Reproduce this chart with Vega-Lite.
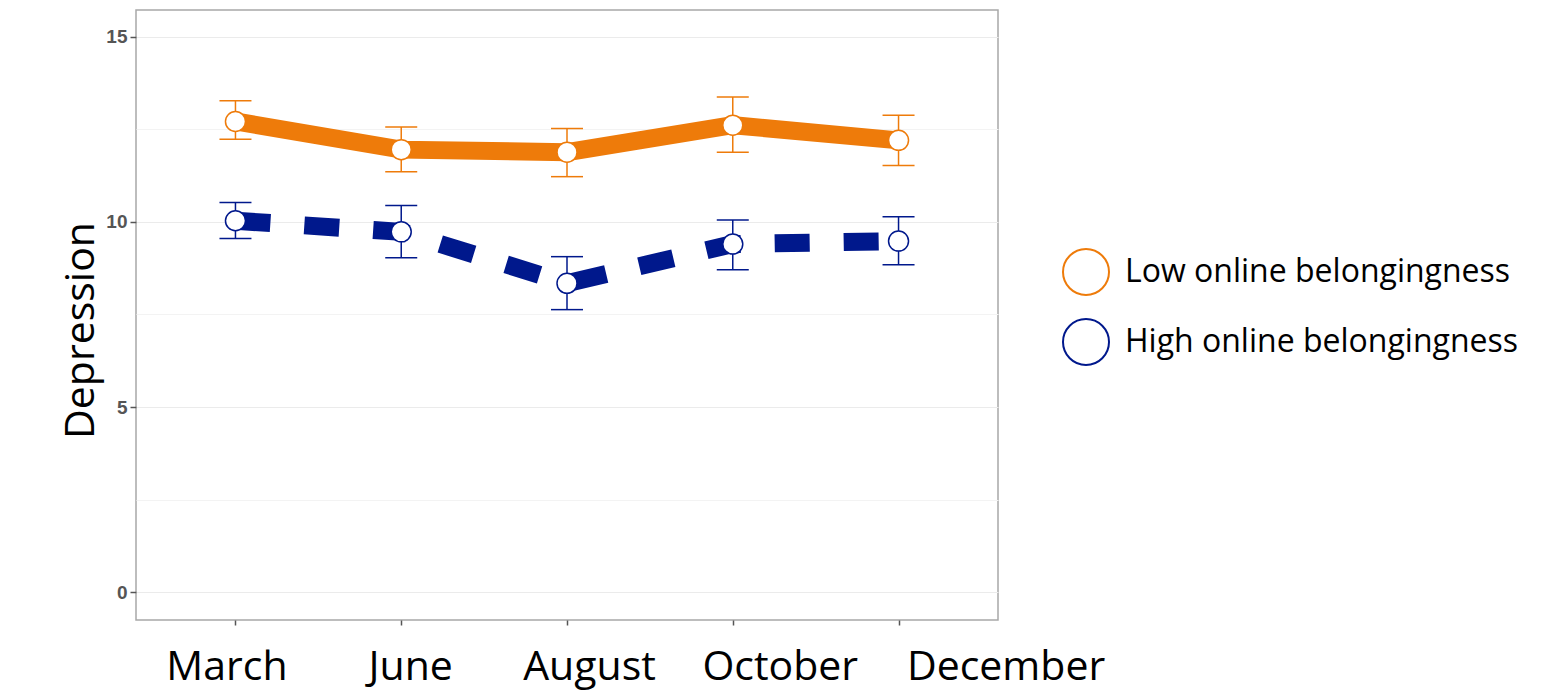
{
  "$schema": "https://vega.github.io/schema/vega-lite/v6.json",
  "width": 862,
  "height": 610,
  "autosize": {"type": "none"},
  "padding": {"left": 136, "top": 10, "right": 556, "bottom": 71},
  "background": "white",
  "config": {
    "view": {"stroke": "#A8A8A8", "strokeWidth": 1.5}
  },
  "data": {
    "values": [
      {"month": "March", "group": "Low  online belongingness", "mean": 12.71, "lo": 12.23, "hi": 13.27},
      {"month": "June", "group": "Low  online belongingness", "mean": 11.95, "lo": 11.35, "hi": 12.56},
      {"month": "August", "group": "Low  online belongingness", "mean": 11.88, "lo": 11.22, "hi": 12.52},
      {"month": "October", "group": "Low  online belongingness", "mean": 12.61, "lo": 11.88, "hi": 13.37},
      {"month": "December", "group": "Low  online belongingness", "mean": 12.2, "lo": 11.52, "hi": 12.88},
      {"month": "March", "group": "High online belongingness", "mean": 10.03, "lo": 9.55, "hi": 10.52},
      {"month": "June", "group": "High online belongingness", "mean": 9.73, "lo": 9.03, "hi": 10.44},
      {"month": "August", "group": "High online belongingness", "mean": 8.34, "lo": 7.63, "hi": 9.06},
      {"month": "October", "group": "High online belongingness", "mean": 9.4, "lo": 8.71, "hi": 10.05},
      {"month": "December", "group": "High online belongingness", "mean": 9.48, "lo": 8.84, "hi": 10.14}
    ]
  },
  "encoding": {
    "x": {
      "field": "month",
      "type": "ordinal",
      "sort": ["March", "June", "August", "October", "December"],
      "scale": {"type": "point", "padding": 0.6},
      "axis": {
        "title": null,
        "labelAngle": 0,
        "labelFont": "Open Sans",
        "labelFontSize": 41,
        "labelColor": "black",
        "labelPadding": 22,
        "labelLimit": 400,
        "tickSize": 5,
        "tickWidth": 1.5,
        "tickColor": "#555555",
        "domain": false,
        "gridColor": "#EBEBEB",
        "gridWidth": 1.2,
        "labelOffset": {
          "condition": [
            {"test": "datum.value == 'March'", "value": -9},
            {"test": "datum.value == 'June'", "value": 9},
            {"test": "datum.value == 'August'", "value": 22},
            {"test": "datum.value == 'October'", "value": 47},
            {"test": "datum.value == 'December'", "value": 107}
          ],
          "value": 0
        }
      }
    }
  },
  "layer": [
    {
      "transform": [{"filter": "datum.group == 'Low  online belongingness'"}],
      "mark": {"type": "line", "strokeWidth": 18, "strokeCap": "butt", "color": "#EE7B0A"},
      "encoding": {
        "y": {
          "field": "mean",
          "type": "quantitative",
          "scale": {"domain": [-0.75, 15.72], "nice": false, "zero": false},
          "axis": {
            "title": "Depression",
            "values": [0, 2.5, 5, 7.5, 10, 12.5, 15],
            "labelExpr": "datum.value % 5 == 0 ? datum.label : ''",
            "labelFont": "Liberation Sans",
            "labelFontWeight": "bold",
            "labelFontSize": 19,
            "labelColor": "#555555",
            "labelPadding": 3,
            "tickSize": 6,
            "tickWidth": 1.5,
            "tickColor": {"condition": {"test": "datum.value % 5 != 0", "value": "transparent"}, "value": "#555555"},
            "domain": false,
            "gridColor": {"condition": {"test": "datum.value % 5 != 0", "value": "#F3F3F3"}, "value": "#EBEBEB"},
            "gridWidth": 1.2,
            "titleFont": "Open Sans",
            "titleFontSize": 41,
            "titleFontWeight": "normal",
            "titleColor": "black",
            "titleAngle": -90,
            "titleAlign": "center",
            "titleBaseline": "alphabetic",
            "titleX": -43,
            "titleY": 320
          }
        }
      }
    },
    {
      "transform": [{"filter": "datum.group == 'High online belongingness'"}],
      "mark": {"type": "line", "strokeWidth": 18, "strokeCap": "butt", "strokeDash": [35, 34], "color": "#00188C"},
      "encoding": {
        "y": {"field": "mean", "type": "quantitative"}
      }
    },
    {
      "transform": [{"filter": "datum.group == 'Low  online belongingness'"}],
      "mark": {"type": "rule", "strokeWidth": 1.5, "color": "#EE7B0A"},
      "encoding": {
        "y": {"field": "lo", "type": "quantitative"},
        "y2": {"field": "hi"}
      }
    },
    {
      "transform": [{"filter": "datum.group == 'High online belongingness'"}],
      "mark": {"type": "rule", "strokeWidth": 1.5, "color": "#00188C"},
      "encoding": {
        "y": {"field": "lo", "type": "quantitative"},
        "y2": {"field": "hi"}
      }
    },
    {
      "transform": [{"filter": "datum.group == 'Low  online belongingness'"}],
      "mark": {"type": "tick", "size": 32, "thickness": 1.5, "orient": "horizontal", "opacity": 1, "color": "#EE7B0A"},
      "encoding": {
        "y": {"field": "lo", "type": "quantitative"}
      }
    },
    {
      "transform": [{"filter": "datum.group == 'Low  online belongingness'"}],
      "mark": {"type": "tick", "size": 32, "thickness": 1.5, "orient": "horizontal", "opacity": 1, "color": "#EE7B0A"},
      "encoding": {
        "y": {"field": "hi", "type": "quantitative"}
      }
    },
    {
      "transform": [{"filter": "datum.group == 'High online belongingness'"}],
      "mark": {"type": "tick", "size": 32, "thickness": 1.5, "orient": "horizontal", "opacity": 1, "color": "#00188C"},
      "encoding": {
        "y": {"field": "lo", "type": "quantitative"}
      }
    },
    {
      "transform": [{"filter": "datum.group == 'High online belongingness'"}],
      "mark": {"type": "tick", "size": 32, "thickness": 1.5, "orient": "horizontal", "opacity": 1, "color": "#00188C"},
      "encoding": {
        "y": {"field": "hi", "type": "quantitative"}
      }
    },
    {
      "mark": {"type": "point", "shape": "circle", "filled": false, "fill": "white", "size": 400, "strokeWidth": 1.5, "opacity": 1},
      "encoding": {
        "y": {"field": "mean", "type": "quantitative"},
        "color": {
          "field": "group",
          "type": "nominal",
          "scale": {"domain": ["Low  online belongingness", "High online belongingness"], "range": ["#EE7B0A", "#00188C"]},
          "legend": {
            "title": null,
            "orient": "none",
            "legendX": 926,
            "legendY": 238,
            "symbolType": "circle",
            "symbolSize": 2116,
            "symbolStrokeWidth": 2,
            "symbolFillColor": "white",
            "symbolOpacity": 1,
            "labelFont": "Open Sans",
            "labelFontSize": 32,
            "labelColor": "black",
            "labelOffset": 15,
            "rowPadding": 16,
            "labelLimit": 700,
            "encode": {
              "symbols": {
                "fill": {"value": "white"},
                "fillOpacity": {"value": 1},
                "strokeWidth": {"value": 2}
              }
            }
          }
        }
      }
    }
  ]
}
